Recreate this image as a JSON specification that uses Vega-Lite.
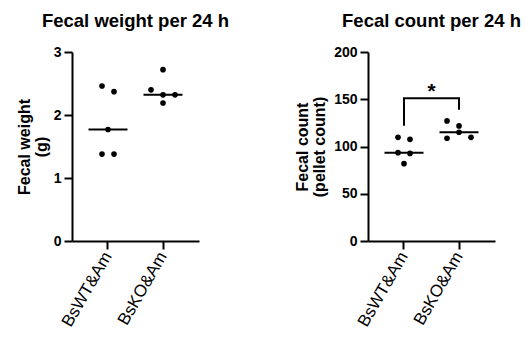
{
  "$schema": "https://vega.github.io/schema/vega-lite/v6.json",
  "background": "white",
  "padding": {"left": 16, "top": 11, "right": 5, "bottom": 2},
  "spacing": 64,
  "config": {
    "font": "Liberation Sans",
    "view": {"stroke": null},
    "axis": {
      "grid": false,
      "domainColor": "#000",
      "domainWidth": 2,
      "tickColor": "#000",
      "tickWidth": 2,
      "tickSize": 8,
      "labelColor": "#000",
      "titleColor": "#000",
      "labelPadding": 3
    },
    "title": {"fontSize": 18.5, "fontWeight": "bold", "color": "#000", "anchor": "middle"}
  },
  "datasets": {
    "weight": [
      {"group": "BsWT&Am", "value": 2.46, "slot": -1},
      {"group": "BsWT&Am", "value": 2.37, "slot": 1},
      {"group": "BsWT&Am", "value": 1.77, "slot": 0},
      {"group": "BsWT&Am", "value": 1.38, "slot": -1},
      {"group": "BsWT&Am", "value": 1.38, "slot": 1},
      {"group": "BsKO&Am", "value": 2.72, "slot": 0},
      {"group": "BsKO&Am", "value": 2.40, "slot": -2},
      {"group": "BsKO&Am", "value": 2.32, "slot": 0},
      {"group": "BsKO&Am", "value": 2.32, "slot": 2},
      {"group": "BsKO&Am", "value": 2.19, "slot": 0}
    ],
    "count": [
      {"group": "BsWT&Am", "value": 109.7, "slot": -1},
      {"group": "BsWT&Am", "value": 107.6, "slot": 1},
      {"group": "BsWT&Am", "value": 93.5, "slot": -1},
      {"group": "BsWT&Am", "value": 92.7, "slot": 1},
      {"group": "BsWT&Am", "value": 81.8, "slot": 0},
      {"group": "BsKO&Am", "value": 127.1, "slot": -2},
      {"group": "BsKO&Am", "value": 121.8, "slot": 0},
      {"group": "BsKO&Am", "value": 108.7, "slot": -2},
      {"group": "BsKO&Am", "value": 115.1, "slot": 0},
      {"group": "BsKO&Am", "value": 109.7, "slot": 2}
    ],
    "bracket": [
      {"group": "BsWT&Am", "value": 122, "k": 1},
      {"group": "BsWT&Am", "value": 151, "k": 2},
      {"group": "BsKO&Am", "value": 151, "k": 3},
      {"group": "BsKO&Am", "value": 139, "k": 4}
    ],
    "star": [
      {"group": "BsWT&Am", "value": 151, "label": "*"}
    ]
  },
  "hconcat": [
    {
      "title": {"text": "Fecal weight per 24 h", "baseline": "alphabetic", "offset": 0},
      "width": 127,
      "height": 189,
      "data": {"name": "weight"},
      "encoding": {
        "x": {
          "field": "group", "type": "nominal", "sort": ["BsWT&Am", "BsKO&Am"],
          "scale": {"type": "band", "paddingInner": 0, "paddingOuter": 0.1545},
          "axis": {"title": null, "labelAngle": -60, "labelFontSize": 17, "labelFontWeight": "normal", "labelPadding": 4}
        },
        "y": {
          "field": "value", "type": "quantitative",
          "scale": {"domain": [0, 3], "nice": false},
          "axis": {"values": [0, 1, 2, 3], "title": ["Fecal weight", "(g)"], "titleFontSize": 16, "titleFontWeight": "bold", "titleLineHeight": 17, "labelFontSize": 14, "labelFontWeight": "bold", "titlePadding": 4}
        }
      },
      "layer": [
        {
          "mark": {"type": "point", "filled": true, "color": "#000", "opacity": 1, "size": 32},
          "encoding": {
            "xOffset": {"field": "slot", "type": "quantitative", "scale": {"domain": [-2, 2], "range": [15.5, 39.5]}}
          }
        },
        {
          "mark": {"type": "tick", "color": "#000", "size": 39, "thickness": 2, "opacity": 1},
          "encoding": {
            "y": {"aggregate": "median", "field": "value", "type": "quantitative"}
          }
        }
      ]
    },
    {
      "title": {"text": "Fecal count per 24 h", "baseline": "alphabetic", "offset": 0},
      "width": 127,
      "height": 189,
      "layer": [
        {
          "data": {"name": "count"},
          "mark": {"type": "point", "filled": true, "color": "#000", "opacity": 1, "size": 32},
          "encoding": {
            "x": {
              "field": "group", "type": "nominal", "sort": ["BsWT&Am", "BsKO&Am"],
              "scale": {"type": "band", "paddingInner": 0, "paddingOuter": 0.1545},
              "axis": {"title": null, "labelAngle": -60, "labelFontSize": 17, "labelFontWeight": "normal", "labelPadding": 4}
            },
            "y": {
              "field": "value", "type": "quantitative",
              "scale": {"domain": [0, 200], "nice": false},
              "axis": {"values": [0, 50, 100, 150, 200], "title": ["Fecal count", "(pellet count)"], "titleFontSize": 16, "titleFontWeight": "bold", "titleLineHeight": 17, "labelFontSize": 14, "labelFontWeight": "bold", "titlePadding": 6}
            },
            "xOffset": {"field": "slot", "type": "quantitative", "scale": {"domain": [-2, 2], "range": [15.5, 39.5]}}
          }
        },
        {
          "data": {"name": "count"},
          "mark": {"type": "tick", "color": "#000", "size": 39, "thickness": 2, "opacity": 1},
          "encoding": {
            "x": {"field": "group", "type": "nominal", "sort": ["BsWT&Am", "BsKO&Am"]},
            "y": {"aggregate": "median", "field": "value", "type": "quantitative"}
          }
        },
        {
          "data": {"name": "bracket"},
          "mark": {"type": "line", "color": "#000", "strokeWidth": 2, "interpolate": "linear"},
          "encoding": {
            "x": {"field": "group", "type": "nominal", "sort": ["BsWT&Am", "BsKO&Am"], "bandPosition": 0.5},
            "y": {"field": "value", "type": "quantitative"},
            "order": {"field": "k", "type": "quantitative"}
          }
        },
        {
          "data": {"name": "star"},
          "mark": {"type": "text", "color": "#000", "fontSize": 21, "fontWeight": "bold", "baseline": "alphabetic", "align": "center"},
          "encoding": {
            "x": {"field": "group", "type": "nominal", "sort": ["BsWT&Am", "BsKO&Am"], "bandPosition": 1},
            "y": {"field": "value", "type": "quantitative"},
            "text": {"field": "label"}
          }
        }
      ]
    }
  ]
}
